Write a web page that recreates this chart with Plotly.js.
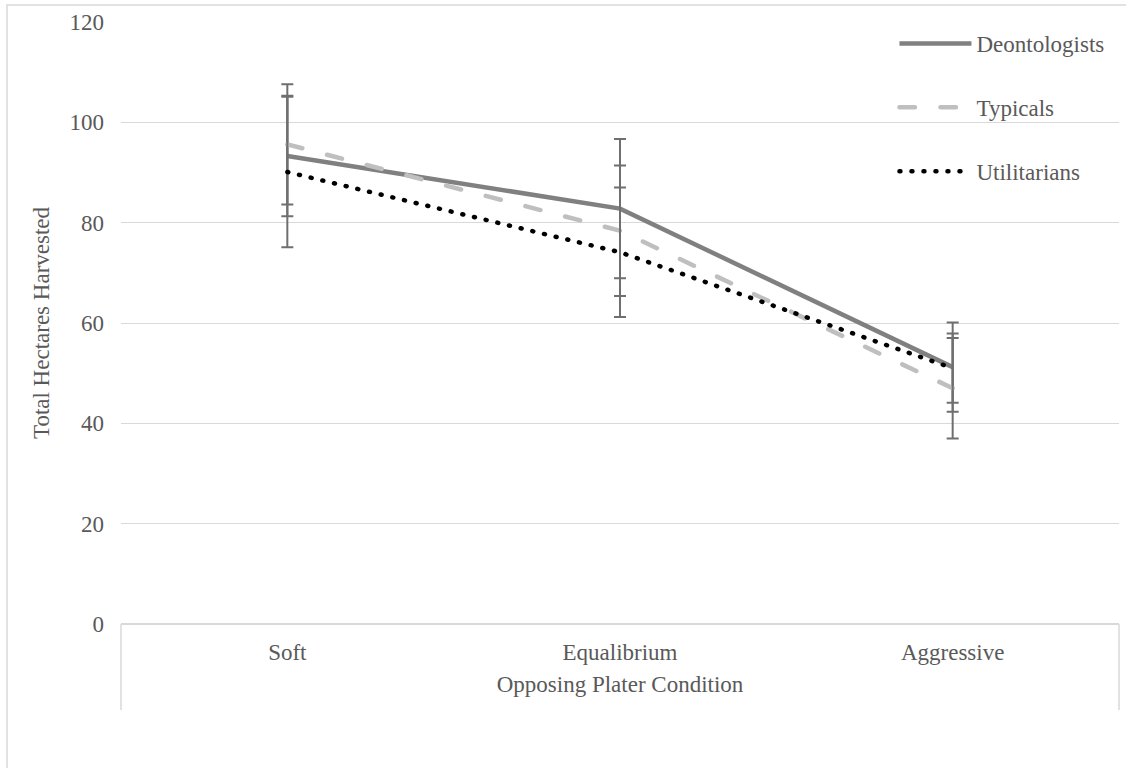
<!DOCTYPE html>
<html>
<head>
<meta charset="utf-8">
<script src="https://cdn.plot.ly/plotly-3.0.1.min.js"></script>
<style>
  html, body { margin: 0; padding: 0; background: #ffffff; }
  #chart { width: 1126px; height: 768px; }
</style>
</head>
<body>
<div id="chart"></div>
<script>
// ---- data ----
const categories = ['Soft', 'Equalibrium', 'Aggressive'];
const seriesNames = ['Deontologists', 'Typicals', 'Utilitarians'];
const deontologists = [93.3, 82.8, 51.2];
const deontologistsErr = [12.0, 13.9, 8.9];
const typicals = [95.6, 78.4, 47.0];
const typicalsErr = [12.0, 13.0, 10.0];
const utilitarians = [90.1, 74.1, 51.0];
const utilitariansErr = [15.0, 12.9, 6.9];
const yTicks = [0, 20, 40, 60, 80, 100, 120];
const xTitle = 'Opposing Plater Condition';
const yTitle = 'Total Hectares Harvested';

const FONT = "'Liberation Serif', 'Times New Roman', serif";
const TXT = '#595959';
const GRID = '#d9d9d9';
const ERR = '#6f6f6f';

const xIdx = categories.map((c, i) => i);

function errBar(arr) {
  return { type: 'data', array: arr, visible: true, color: ERR, thickness: 2, width: 6 };
}

const traces = [
  {
    name: seriesNames[0], x: xIdx, y: deontologists, mode: 'lines',
    line: { color: '#808080', width: 4.5 },
    error_y: errBar(deontologistsErr), legendgroup: 'a'
  },
  {
    name: seriesNames[1], x: xIdx, y: typicals, mode: 'lines',
    line: { color: '#bfbfbf', width: 4.5, dash: '15.5px,25.5px' },
    error_y: errBar(typicalsErr), legendgroup: 'b'
  },
  {
    name: seriesNames[2], x: xIdx, y: utilitarians, mode: 'lines',
    line: { color: '#000000', width: 4.5, dash: '1px,11px' },
    error_y: errBar(utilitariansErr), legendgroup: 'c'
  }
];

const layout = {
  width: 1126, height: 768,
  margin: { l: 121, r: 7, t: 22, b: 144, pad: 0 },
  paper_bgcolor: '#ffffff', plot_bgcolor: '#ffffff',
  font: { family: FONT, size: 23, color: TXT },
  showlegend: true,
  legend: {
    x: 0.775, xanchor: 'left', y: 1.0, yanchor: 'top',
    bgcolor: 'rgba(0,0,0,0)', borderwidth: 0,
    font: { family: FONT, size: 23, color: TXT },
    itemwidth: 72, tracegroupgap: 31, traceorder: 'grouped'
  },
  xaxis: {
    range: [-0.5, 2.5], tickmode: 'array', tickvals: xIdx, ticktext: categories,
    showgrid: false, zeroline: false, showline: false, ticks: '',
    ticklabelstandoff: 12, fixedrange: true,
    tickfont: { family: FONT, size: 23, color: TXT },
    title: { text: xTitle, font: { family: FONT, size: 23, color: TXT }, standoff: 11 }
  },
  yaxis: {
    range: [0, 120], tickmode: 'array', tickvals: yTicks,
    showgrid: true, gridcolor: GRID, gridwidth: 1,
    zeroline: true, zerolinecolor: GRID, zerolinewidth: 1.5,
    showline: false, ticks: '', ticklabelstandoff: 16, fixedrange: true,
    tickfont: { family: FONT, size: 23, color: TXT },
    title: { text: yTitle, font: { family: FONT, size: 23, color: TXT }, standoff: 13 }
  },
  shapes: [
    // category box side lines below the axis
    { type: 'line', xref: 'paper', yref: 'paper', x0: 0, x1: 0, y0: 0, y1: -86 / 602,
      line: { color: GRID, width: 1.5 } },
    { type: 'line', xref: 'paper', yref: 'paper', x0: 1, x1: 1, y0: 0, y1: -86 / 602,
      line: { color: GRID, width: 1.5 } },
    // outer chart-area border (left & top visible)
    { type: 'rect', xref: 'paper', yref: 'paper', x0: -114 / 998, x1: 1.2, y0: -0.4, y1: 619 / 602,
      line: { color: GRID, width: 1.5 }, fillcolor: 'rgba(0,0,0,0)', layer: 'below' }
  ]
};

const gd = document.getElementById('chart');
Plotly.newPlot(gd, traces, layout, { displayModeBar: false, staticPlot: true }).then(function () {
  function roundCaps() {
    const lines = gd.querySelectorAll('.scatterlayer .trace');
    lines.forEach(function (t, i) {
      if (i === 1 || i === 2) {
        t.querySelectorAll('path.js-line').forEach(p => p.style.strokeLinecap = 'round');
      }
    });
    const legTraces = gd.querySelectorAll('.legend .traces');
    legTraces.forEach(function (t, i) {
      if (i === 1 || i === 2) {
        t.querySelectorAll('path.js-line').forEach(p => p.style.strokeLinecap = 'round');
      }
    });
  }
  roundCaps();
  gd.on('plotly_afterplot', roundCaps);
});
</script>
</body>
</html>
